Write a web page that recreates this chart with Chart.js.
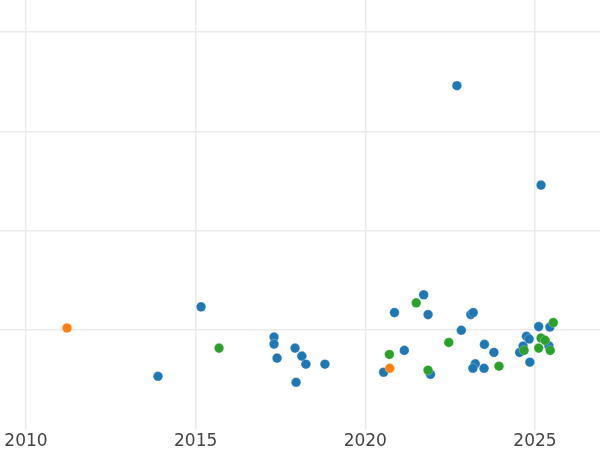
<!DOCTYPE html>
<html lang="en">
<head>
    <meta charset="UTF-8">
    <title>Scatter</title>
    <script src="https://cdn.jsdelivr.net/npm/chart.js"></script>
    <style>
        body {
            margin: 0;
            background: #fff;
        }
        .conter {
            width: 600px;
            height: 450px;
        }
    </style>
</head>
<body>

<div class="conter">
    <canvas id="scatterChart"></canvas>
</div>

<script>
    // values (year, value)
    var blueX = [2022.70, 2025.18, 2015.16, 2013.89, 2017.31, 2017.31, 2017.40, 2017.93, 2018.13, 2018.25,
                 2017.96, 2018.81, 2020.54, 2020.86, 2021.15, 2021.72, 2021.85, 2021.92, 2022.83, 2023.11,
                 2023.18, 2023.24, 2023.17, 2023.51, 2023.50, 2023.79, 2024.55, 2024.65, 2024.75, 2024.83,
                 2024.85, 2025.11, 2025.44, 2025.41];
    var blueY = [3.46, 2.46, 1.235, 0.536, 0.931, 0.86, 0.719, 0.82, 0.739, 0.658,
                 0.476, 0.658, 0.577, 1.177, 0.797, 1.356, 1.157, 0.557, 0.999, 1.157,
                 1.177, 0.661, 0.617, 0.857, 0.617, 0.776, 0.776, 0.84, 0.938, 0.911,
                 0.678, 1.036, 1.032, 0.843];
    var orangeX = [2011.21, 2020.72];
    var orangeY = [1.022, 0.617];
    var greenX = [2015.69, 2020.71, 2021.50, 2021.85, 2022.46, 2023.94, 2024.68, 2025.18, 2025.30, 2025.11,
                  2025.45, 2025.54];
    var greenY = [0.82, 0.756, 1.275, 0.597, 0.877, 0.638, 0.797, 0.921, 0.898, 0.82,
                  0.797, 1.076];
    var xTicks = [2010, 2015, 2020, 2025];
    var yTicks = [1, 2, 3, 4];

    function toPoints(xs, ys) {
        return xs.map(function (x, i) { return {x: x, y: ys[i]}; });
    }

    function makeSet(xs, ys, color, order) {
        return {
            data: toPoints(xs, ys),
            backgroundColor: color,
            borderColor: 'rgba(255,255,255,0.5)',
            borderWidth: 0.5,
            pointRadius: 4.8,
            pointHoverRadius: 4.8,
            order: order
        };
    }

    var ctx = document.getElementById('scatterChart').getContext('2d');
    new Chart(ctx, {
        type: 'scatter',
        data: {
            datasets: [
                makeSet(blueX, blueY, '#1f77b4', 2),
                makeSet(orangeX, orangeY, '#ff7f0e', 1),
                makeSet(greenX, greenY, '#2ca02c', 0)
            ]
        },
        options: {
            responsive: true,
            maintainAspectRatio: false,
            animation: false,
            layout: { padding: { left: 0, right: 0, top: 0, bottom: -4 }, autoPadding: false },
            plugins: {
                legend: { display: false },
                tooltip: { enabled: false }
            },
            scales: {
                x: {
                    type: 'linear',
                    min: 2009.234,
                    max: 2026.917,
                    afterBuildTicks: function (axis) {
                        axis.ticks = xTicks.map(function (v) { return {value: v}; });
                    },
                    grid: { color: '#ebebeb', lineWidth: 1.5, drawTicks: false },
                    border: { display: false },
                    ticks: {
                        padding: 2,
                        color: '#444',
                        font: { family: 'DejaVu Sans', size: 17 },
                        maxRotation: 0,
                        callback: function (v) { return String(v); }
                    }
                },
                y: {
                    min: 0,
                    max: 4.322,
                    afterBuildTicks: function (axis) {
                        axis.ticks = yTicks.map(function (v) { return {value: v}; });
                    },
                    grid: { color: '#ebebeb', lineWidth: 1.5, drawTicks: false },
                    border: { display: false },
                    ticks: { display: false }
                }
            }
        }
    });
</script>

</body>
</html>
